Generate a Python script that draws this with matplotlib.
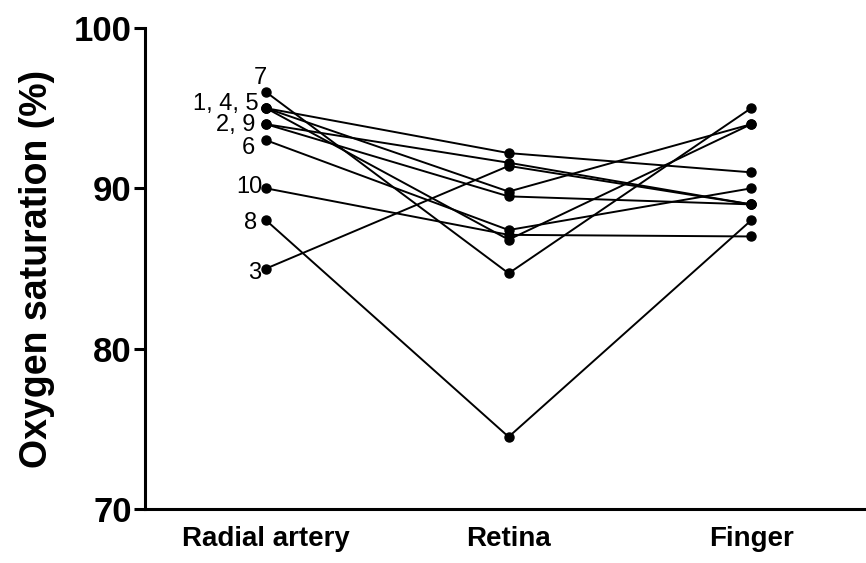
import matplotlib
matplotlib.use("Agg")
import matplotlib.pyplot as plt

plt.rcParams['font.family'] = ['Liberation Sans', 'DejaVu Sans']

categories = ["Radial artery", "Retina", "Finger"]
subjects = ["1", "2", "3", "4", "5", "6", "7", "8", "9", "10"]
radial = [95, 94, 85, 95, 95, 93, 96, 88, 94, 90]
retina = [92.2, 91.6, 91.4, 89.8, 86.8, 87.4, 84.7, 74.5, 89.5, 87.1]
finger = [91, 89, 89, 94, 94, 90, 95, 88, 89, 87]

label_text = ["7", "1, 4, 5", "2, 9", "6", "10", "8", "3"]
label_value = [96, 95, 94, 93, 90, 88, 85]
# layout offsets (pixels) for the subject labels: right edge dx, vertical dy
label_dx = [1, -8, -11, -11, -4, -9, -5]
label_dy = [14, 4, -1, -8, 1, -3, -4]

fig = plt.figure(figsize=(8.66, 5.63), dpi=100)
ax = fig.add_axes([0.1674, 0.0959, 0.8326, 0.8543])

x = list(range(len(categories)))
for r, t, f in zip(radial, retina, finger):
    ax.plot(x, [r, t, f], color='black', lw=1.4, marker='o', ms=6.5,
            mfc='black', mec='black', solid_capstyle='round')

for txt, v, dx, dy in zip(label_text, label_value, label_dx, label_dy):
    ax.annotate(txt, xy=(0, v), xytext=(dx, dy), textcoords='offset pixels',
                ha='right', va='center', fontsize=17, color='black')

ax.set_xlim(-0.5, 2.474)
ax.set_ylim(70, 100)
ax.set_yticks([70, 80, 90, 100])
ax.set_xticks(x)
ax.set_xticklabels(categories, fontsize=20, fontweight='bold')
ax.set_ylabel("Oxygen saturation (%)", fontsize=27, fontweight='bold')
ax.yaxis.set_label_coords(-0.125, 0.5)
for lab in ax.get_yticklabels():
    lab.set_fontweight('bold')
    lab.set_fontsize(25)

for s in ['top', 'right']:
    ax.spines[s].set_visible(False)
for s in ['left', 'bottom']:
    ax.spines[s].set_linewidth(2.2)
ax.tick_params(axis='y', direction='out', length=8, width=2.2, pad=1.5)
ax.tick_params(axis='x', direction='out', length=0, pad=12)

fig.savefig("out.png", dpi=100)
